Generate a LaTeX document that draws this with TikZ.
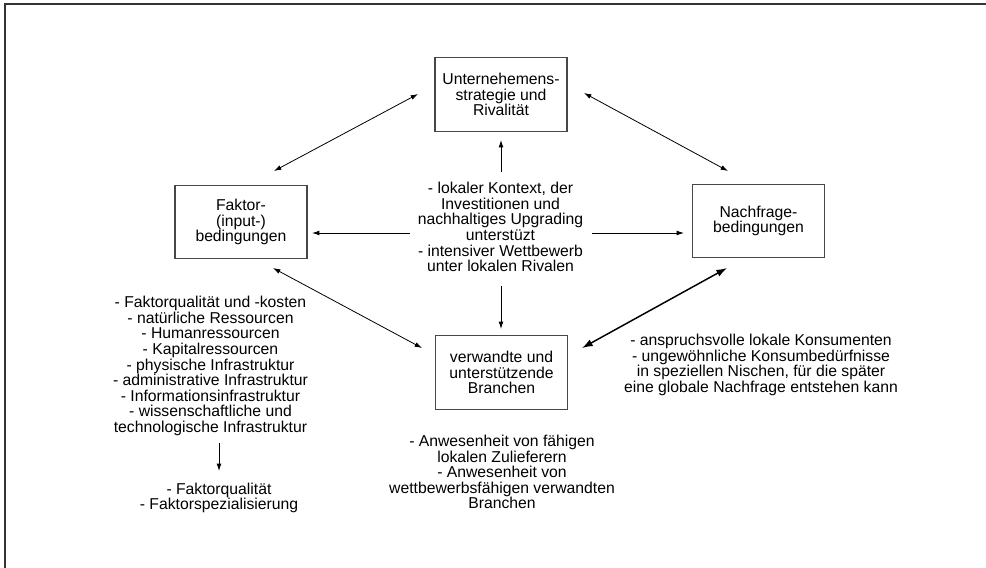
\documentclass[tikz,border=0pt]{standalone}
\usepackage{fontspec}
\setmainfont{Liberation Sans}
\usetikzlibrary{arrows.meta}
\begin{document}
\begin{tikzpicture}[x=0.75pt,y=-0.75pt,
  txt/.style={inner sep=0pt, align=center, font=\fontsize{11.8pt}{11.7pt}\selectfont},
  box/.style={txt, draw=black!72, line width=0.8pt, minimum width=99pt, minimum height=55pt},
  arr/.style={line width=0.6pt, -{Latex[length=5.5pt,width=3.6pt]}},
  darr/.style={line width=0.6pt, {Latex[length=5.5pt,width=3.6pt]}-{Latex[length=5.5pt,width=3.6pt]}},
  tdarr/.style={line width=1.1pt, {Latex[length=8pt,width=5.5pt]}-{Latex[length=8pt,width=5.5pt]}},
  frame/.style={draw=black!80, line width=1.1pt}]
\useasboundingbox (0,0) rectangle (986,568);
% frame (top and left edges)
\coordinate (fTL) at (5,4);
\coordinate (fTR) at (986,4);
\coordinate (fBL) at (5,568);
\draw[frame] (fTR) -- (fTL) -- (fBL);

% boxes
\node[box] (strat) at (501,94.5) {Unternehemens-\\strategie und\\Rivalität};
\node[box] (faktor) at (241,222) {Faktor-\\(input-)\\bedingungen};
\node[box] (nachf) at (758.5,221) {Nachfrage-\\bedingungen};
\node[box] (branch) at (501.5,372.5) {verwandte und\\unterstützende\\Branchen};

% texts
\node[txt] (center) at (500.5,227) {- lokaler Kontext, der\\Investitionen und\\nachhaltiges Upgrading\\unterstüzt\\- intensiver Wettbewerb\\unter lokalen Rivalen};
\node[txt] (ftext) at (210.5,366) {- Faktorqualität und -kosten\\- natürliche Ressourcen\\- Humanressourcen\\- Kapitalressourcen\\- physische Infrastruktur\\- administrative Infrastruktur\\- Informationsinfrastruktur\\- wissenschaftliche und\\technologische Infrastruktur};
\node[txt] (ftext2) at (219,498) {- Faktorqualität\\- Faktorspezialisierung};
\node[txt] (btext) at (502,472) {- Anwesenheit von fähigen\\lokalen Zulieferern\\- Anwesenheit von\\wettbewerbsfähigen verwandten\\Branchen};
\node[txt] (ntext) at (761,365) {- anspruchsvolle lokale Konsumenten\\- ungewöhnliche Konsumbedürfnisse\\in speziellen Nischen, für die später\\eine globale Nachfrage entstehen kann};

% arrow end points
\coordinate (a1) at (274,171); \coordinate (a2) at (418,94);
\coordinate (b1) at (584,93);  \coordinate (b2) at (728,171);
\coordinate (c1) at (273,268); \coordinate (c2) at (422,348);
\coordinate (d1) at (582,348); \coordinate (d2) at (727,268);
\coordinate (up0) at (501,172); \coordinate (up1) at (501,140);
\coordinate (dn0) at (501,286); \coordinate (dn1) at (501,329);
\coordinate (lf0) at (410,233); \coordinate (lf1) at (312,233);
\coordinate (rt0) at (592,233); \coordinate (rt1) at (684,233);
\coordinate (sd0) at (219,443); \coordinate (sd1) at (219,471);

\draw[darr] (a1) -- (a2);
\draw[darr] (b1) -- (b2);
\draw[darr] (c1) -- (c2);
\draw[tdarr] (d1) -- (d2);
\draw[arr] (up0) -- (up1);
\draw[arr] (dn0) -- (dn1);
\draw[arr] (lf0) -- (lf1);
\draw[arr] (rt0) -- (rt1);
\draw[arr] (sd0) -- (sd1);
\end{tikzpicture}
\end{document}
